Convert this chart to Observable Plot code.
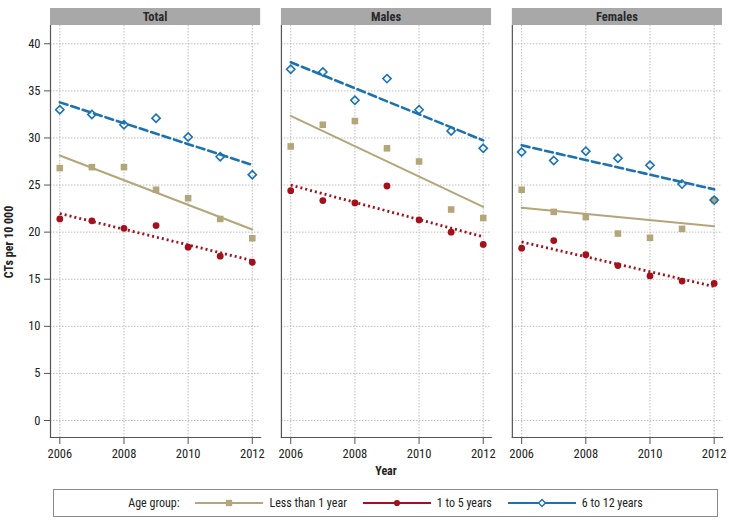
<!DOCTYPE html>
<html><head><meta charset="utf-8">
<script src="https://cdn.jsdelivr.net/npm/d3@7"></script>
<script src="https://cdn.jsdelivr.net/npm/@observablehq/plot@0.6"></script>
<style>
body{margin:0;background:#fff;font-family:"Liberation Sans Narrow","Arial Narrow","Roboto Condensed","DejaVu Sans Condensed",sans-serif;}
#chart{position:relative;width:729px;}
#legend{position:absolute;left:53px;top:489px;width:663px;height:26px;border:1px solid #8a8a8a;display:flex;align-items:center;justify-content:center;font-size:12px;color:#222;}
#legend .item{display:flex;align-items:center;}
</style></head><body><div id="chart"></div><div id="legend"></div><script>
const panels = ["Total", "Males", "Females"];
const years = [2006, 2007, 2008, 2009, 2010, 2011, 2012];
const groups = ["Less than 1 year", "1 to 5 years", "6 to 12 years"];
const xTicks = [2006, 2008, 2010, 2012];
const yTicks = [0, 5, 10, 15, 20, 25, 30, 35, 40];

// Less than 1 year
const totalLess   = [26.8, 26.9, 26.9, 24.5, 23.6, 21.4, 19.35];
const malesLess   = [29.1, 31.4, 31.8, 28.9, 27.5, 22.4, 21.5];
const femalesLess = [24.5, 22.15, 21.6, 19.85, 19.4, 20.35, 23.4];
// 1 to 5 years
const total1to5   = [21.4, 21.2, 20.4, 20.7, 18.4, 17.45, 16.8];
const males1to5   = [24.4, 23.35, 23.1, 24.9, 21.3, 20.0, 18.7];
const females1to5 = [18.3, 19.1, 17.6, 16.45, 15.35, 14.8, 14.55];
// 6 to 12 years
const total6to12   = [33.0, 32.5, 31.4, 32.1, 30.1, 28.0, 26.1];
const males6to12   = [37.3, 37.0, 34.0, 36.3, 33.0, 30.75, 28.9];
const females6to12 = [28.5, 27.6, 28.6, 27.85, 27.1, 25.1, 23.4];

const series = [
  ["Total", groups[0], totalLess], ["Males", groups[0], malesLess], ["Females", groups[0], femalesLess],
  ["Total", groups[1], total1to5], ["Males", groups[1], males1to5], ["Females", groups[1], females1to5],
  ["Total", groups[2], total6to12], ["Males", groups[2], males6to12], ["Females", groups[2], females6to12]
];
const rows = [];
for (const [panel, group, vals] of series) vals.forEach((v, i) => rows.push({panel, group, year: years[i], value: v}));

const colors = {"Less than 1 year": "#b3a67a", "1 to 5 years": "#a3111c", "6 to 12 years": "#1c72b0"};
const lineStyle = {
  "Less than 1 year": {strokeWidth: 2},
  "1 to 5 years": {strokeWidth: 2.8, strokeDasharray: "2,3", strokeLinecap: "butt"},
  "6 to 12 years": {strokeWidth: 2.6, strokeDasharray: "8,4"}
};
const dotStyle = {
  "Less than 1 year": {symbol: "square", r: 3.7, fill: colors["Less than 1 year"]},
  "1 to 5 years": {symbol: "circle", r: 3.4, fill: colors["1 to 5 years"]},
  "6 to 12 years": {symbol: "diamond2", r: 3.7, fill: "none", stroke: colors["6 to 12 years"], strokeWidth: 1.6}
};

const font = '"Liberation Sans Narrow","Arial Narrow","Roboto Condensed","DejaVu Sans Condensed",sans-serif';
const gridStyle = {stroke: "#bdbdbd", strokeOpacity: 1, strokeDasharray: "1.5,1.5"};

const marks = [
  Plot.gridX({ticks: xTicks, ...gridStyle}),
  Plot.gridY({ticks: yTicks, ...gridStyle}),
  Plot.frame({anchor: "left", stroke: "#555", strokeWidth: 1.2}),
  Plot.frame({anchor: "bottom", stroke: "#555", strokeWidth: 1.2}),
  Plot.axisY({ticks: yTicks, tickSize: 6, tickPadding: 4, label: null, stroke: "#555", fill: "#222", fontSize: 12.5}),
  Plot.axisX({ticks: xTicks, tickSize: 7, tickPadding: 5, label: null, tickFormat: d => String(d), stroke: "#555", fill: "#222", fontSize: 12.5})
];
for (const g of groups) {
  const sub = rows.filter(d => d.group === g);
  marks.push(Plot.linearRegressionY(sub, {fx: "panel", x: "year", y: "value", stroke: colors[g], ci: 0, ...lineStyle[g]}));
}
for (const g of groups) {
  const sub = rows.filter(d => d.group === g);
  marks.push(Plot.dot(sub, {fx: "panel", x: "year", y: "value", ...dotStyle[g]}));
}

const plot = Plot.plot({
  width: 729,
  height: 480,
  marginLeft: 50,
  marginRight: 7,
  marginTop: 25,
  marginBottom: 43,
  style: {fontFamily: font, fontSize: "12px", background: "#fff", color: "#222"},
  fx: {domain: panels, paddingInner: 0.09, paddingOuter: 0, round: false, axis: null, label: null},
  x: {domain: [2005.71, 2012.26], label: null},
  y: {domain: [-1.805, 41.94], label: null},
  marks
});
document.getElementById("chart").appendChild(plot);

// Facet headers
const svg = d3.select(plot);
const fxs = plot.scale("fx");
const fx = d3.scaleBand().domain(fxs.domain).range(fxs.range)
  .paddingInner(fxs.paddingInner ?? 0.09).paddingOuter(fxs.paddingOuter ?? 0).align(fxs.align ?? 0.5);
const hdr = svg.append("g");
for (const p of panels) {
  hdr.append("rect").attr("x", fx(p)).attr("y", 8).attr("width", fx.bandwidth()).attr("height", 17).attr("fill", "#a8a8a8");
  hdr.append("text").attr("x", fx(p) + fx.bandwidth() / 2).attr("y", 16.5).attr("dy", "0.35em")
    .attr("text-anchor", "middle").attr("font-weight", "bold").attr("font-size", 12.5).attr("fill", "#2a2a2a").text(p);
}
// Axis titles
svg.append("text").attr("transform", "translate(13,242) rotate(-90)").attr("text-anchor", "middle")
  .attr("font-weight", "bold").attr("font-size", 12).attr("fill", "#222").text("CTs per 10 000");
svg.append("text").attr("x", (fxs.range[0] + fxs.range[1]) / 2).attr("y", 475).attr("text-anchor", "middle")
  .attr("font-weight", "bold").attr("font-size", 12).attr("fill", "#222").text("Year");

// Legend
const legend = d3.select("#legend");
legend.append("span").text("Age group:").style("margin-right", "16px");
const symbols = {"Less than 1 year": d3.symbolSquare, "1 to 5 years": d3.symbolCircle, "6 to 12 years": d3.symbolDiamond2};
groups.forEach((g, i) => {
  const item = legend.append("span").attr("class", "item").style("margin-right", i < 2 ? "16px" : "0");
  const s = item.append("svg").attr("width", 68).attr("height", 12).style("margin-right", "6px");
  s.append("line").attr("x1", 0).attr("x2", 68).attr("y1", 6).attr("y2", 6).attr("stroke", colors[g]).attr("stroke-width", 2);
  const sz = g === "Less than 1 year" ? 40 : 30;
  s.append("path").attr("transform", "translate(34,6)").attr("d", d3.symbol(symbols[g], sz)())
    .attr("fill", g === "6 to 12 years" ? "#fff" : colors[g]).attr("stroke", g === "6 to 12 years" ? colors[g] : "none").attr("stroke-width", 1.4);
  item.append("span").text(g);
});
</script></body></html>
